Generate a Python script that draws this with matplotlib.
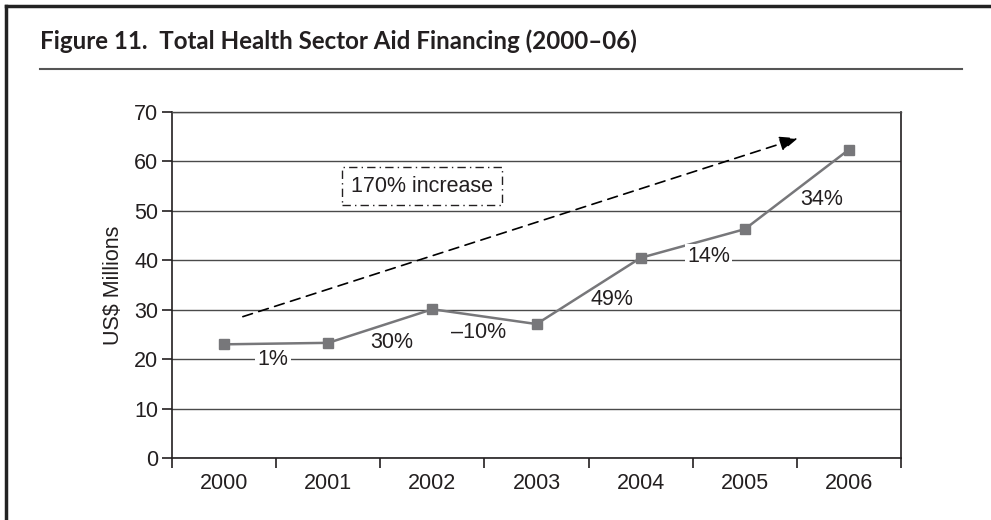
import matplotlib.pyplot as plt
from matplotlib.lines import Line2D
import numpy as np

years = ["2000", "2001", "2002", "2003", "2004", "2005", "2006"]
aid = [23.0, 23.3, 30.1, 27.1, 40.5, 46.3, 62.4]

growth_labels = ["1%", "30%", "\u201310%", "49%", "14%", "34%"]
growth_x = [0.47, 1.61, 2.44, 3.72, 4.65, 5.74]
growth_y = [19.9, 23.3, 25.3, 32.0, 40.7, 52.4]
growth_on_grid = [True, False, False, False, True, False]

trend_start = (0.18, 28.6)
trend_end = (5.51, 64.7)
trend_label = "170% increase"
trend_label_pos = (1.9, 55.0)

TEXT = "#231f20"
GRID = "#4a4a4a"
LINE = "#77777a"
FS = 15.5

plt.rcParams["font.family"] = ["Liberation Sans", "DejaVu Sans"]

fig = plt.figure(figsize=(9.91, 5.2), dpi=100)
ax = fig.add_axes([0.1736, 0.1192, 0.7356, 0.6654])

x = np.arange(len(years))
ax.plot(x, aid, color=LINE, lw=1.8, marker="s", markersize=7.5,
        markerfacecolor=LINE, markeredgecolor=LINE, zorder=4)

ax.set_xlim(-0.5, len(years) - 0.5)
ax.set_ylim(0, 70)
ax.set_yticks(range(0, 71, 10))
ax.set_xticks(x)
ax.set_xticklabels(years)
ax.set_xticks(np.arange(-0.5, len(years)), minor=True)
ax.tick_params(axis="x", which="major", length=0, pad=11, labelsize=FS, colors=TEXT)
ax.tick_params(axis="x", which="minor", length=7, width=1.2, direction="out", color=TEXT)
ax.tick_params(axis="y", length=7, width=1.2, pad=3, labelsize=FS, colors=TEXT)

ax.yaxis.grid(True, color=GRID, lw=1.0)
ax.set_axisbelow(True)
for s in ax.spines.values():
    s.set_color(TEXT)
    s.set_linewidth(1.2)
ax.spines["top"].set_color(GRID)
ax.spines["top"].set_linewidth(1.0)

ax.set_ylabel("US$ Millions", fontsize=FS, color=TEXT, labelpad=7)

for lab, gx, gy, og in zip(growth_labels, growth_x, growth_y, growth_on_grid):
    t = ax.text(gx, gy, lab, ha="center", va="center", fontsize=FS, color=TEXT, zorder=5)
    if og:
        t.set_bbox(dict(boxstyle="square,pad=0.1", fc="white", ec="none"))

ax.annotate("", xy=trend_end, xytext=trend_start,
            arrowprops=dict(arrowstyle="-|>,head_length=1.1,head_width=0.45",
                            color="black", lw=1.2, linestyle=(0, (6, 4)),
                            shrinkA=0, shrinkB=0))

ax.text(trend_label_pos[0], trend_label_pos[1], trend_label, ha="center", va="center",
        fontsize=FS, color=TEXT,
        bbox=dict(boxstyle="square,pad=0.4", fc="white", ec=TEXT, lw=1.0,
                  linestyle=(0, (6, 3, 1, 3))))

# title and frame
fig.text(0.0404, 0.905, "Figure 11.  Total Health Sector Aid Financing (2000\u201306)",
         fontsize=17.4, fontweight="bold", color=TEXT, family=["Lato", "DejaVu Sans"],
         va="baseline", ha="left")
fig.add_artist(Line2D([0.0404, 0.9707], [1 - 69 / 520] * 2, color="#555555", lw=1.5))
fig.add_artist(Line2D([6 / 991] * 2, [0, 1 - 6 / 520], color="#222222", lw=2.5))
fig.add_artist(Line2D([6 / 991, 1], [1 - 6 / 520] * 2, color="#222222", lw=2.5))

plt.savefig("out.png", dpi=100)
